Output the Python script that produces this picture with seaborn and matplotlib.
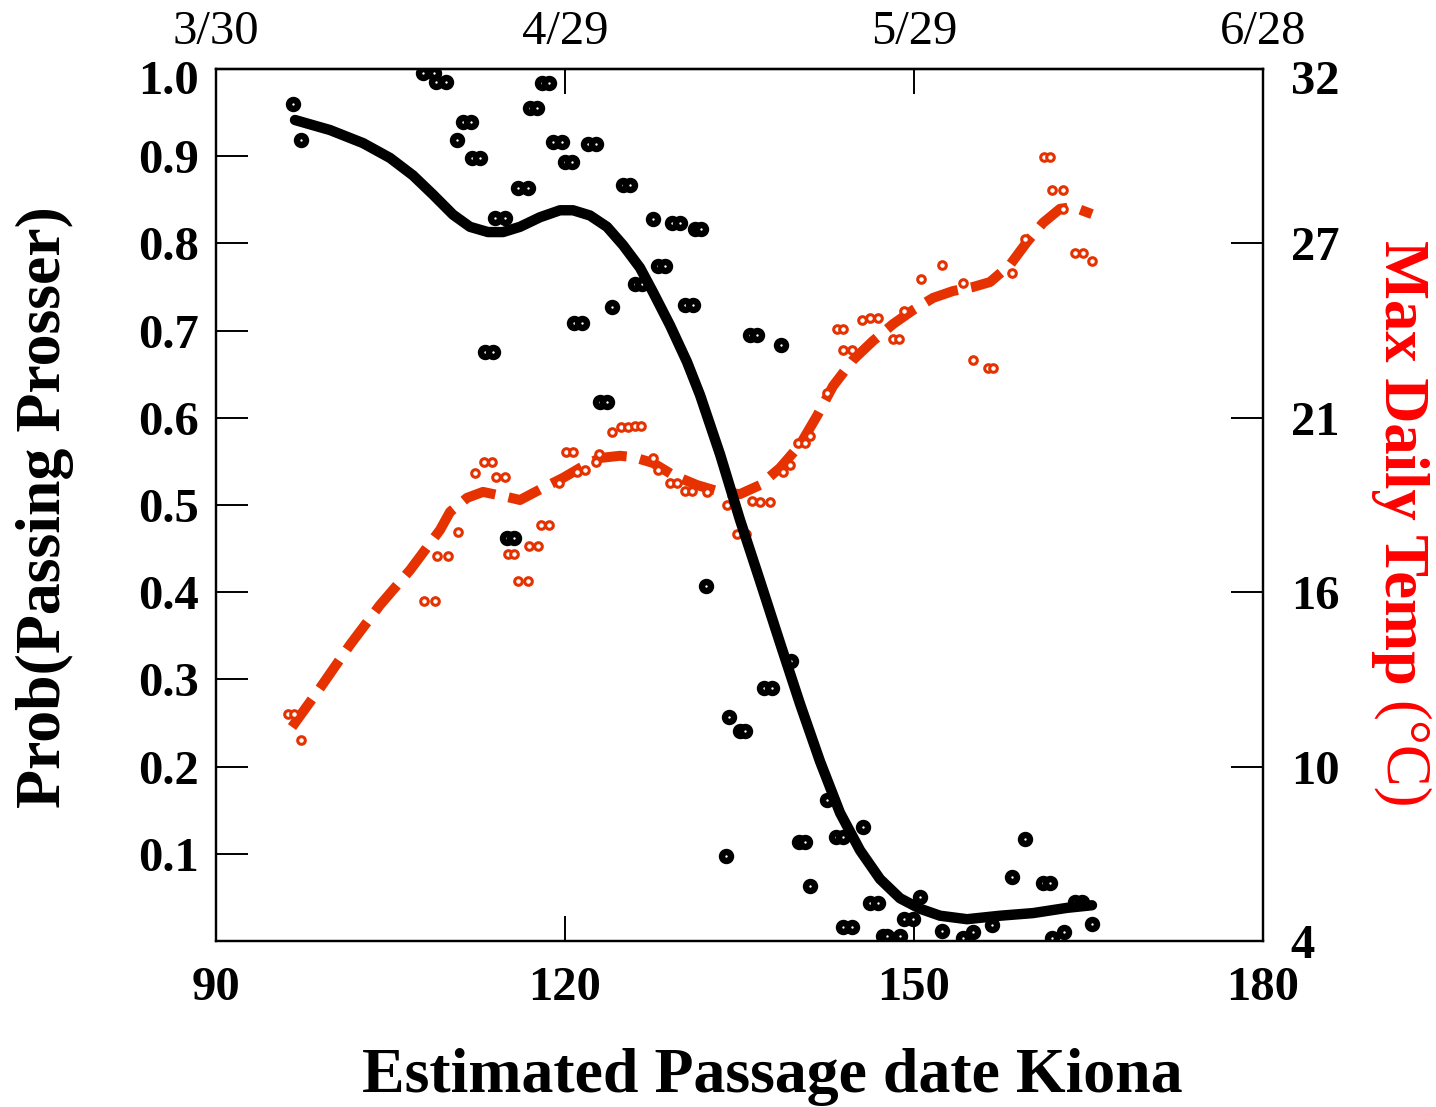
import numpy as np
import pandas as pd
import matplotlib
matplotlib.use("Agg")
import matplotlib.pyplot as plt
import matplotlib.transforms as mtransforms
import seaborn as sns

# ---------------- data ----------------
prob_x = [96.6, 97.3, 107.8, 108.7, 108.9, 109.8, 110.7, 111.2, 111.9, 112.0, 112.7,
          113.1, 113.8, 114.0, 114.8, 115.0, 115.6, 116.0, 116.8, 117.0, 117.6,
          118.0, 118.6, 119.0, 119.7, 120.0, 120.6, 120.8, 121.5, 122.0, 122.7,
          123.0, 123.6, 124.0, 125.0, 125.6, 126.0, 126.6, 127.6, 128.0, 128.6,
          129.2, 129.9, 130.3, 131.0, 131.2, 131.7, 132.1, 133.8, 134.1, 135.0, 135.5,
          135.9, 136.5, 137.1, 137.8, 138.6, 139.4, 140.1, 140.6, 141.1, 142.5,
          143.3, 143.9, 143.9, 144.7, 145.6, 146.2, 146.9, 147.3, 147.7, 148.8,
          149.1, 149.9, 150.5, 152.4, 154.2, 155.1, 156.7, 158.4, 159.5, 161.1,
          161.7, 161.9, 162.9, 163.8, 164.4, 165.3]
prob_y = [0.960, 0.919, 0.995, 0.995, 0.985, 0.985, 0.919, 0.939, 0.939, 0.898, 0.898,
          0.675, 0.675, 0.829, 0.829, 0.462, 0.462, 0.864, 0.864, 0.955, 0.955,
          0.984, 0.984, 0.916, 0.916, 0.893, 0.893, 0.709, 0.709, 0.914, 0.914,
          0.618, 0.618, 0.727, 0.867, 0.867, 0.753, 0.753, 0.828, 0.774, 0.774,
          0.823, 0.823, 0.729, 0.729, 0.817, 0.817, 0.407, 0.0975, 0.257, 0.241, 0.241,
          0.695, 0.695, 0.290, 0.290, 0.683, 0.321, 0.114, 0.114, 0.063, 0.162,
          0.119, 0.119, 0.016, 0.016, 0.131, 0.044, 0.044, 0.006, 0.006, 0.006,
          0.025, 0.025, 0.050, 0.011, 0.003, 0.010, 0.018, 0.073, 0.117, 0.066,
          0.066, 0.004, 0.010, 0.045, 0.045, 0.020]

prob_fit_x = [96.79, 99.80, 102.64, 104.96, 106.93, 108.65, 110.37, 111.83, 113.38,
              114.67, 116.13, 117.85, 119.57, 120.69, 122.15, 123.61, 124.99, 126.45,
              127.57, 129.03, 130.49, 131.61, 133.33, 135.04, 136.76, 138.48, 140.20,
              141.92, 143.64, 145.36, 147.08, 148.80, 150.52, 152.24, 154.56, 157.40,
              160.23, 163.15, 165.30]
prob_fit_y = [0.9415, 0.930, 0.915, 0.898, 0.878, 0.856, 0.833, 0.819, 0.813,
              0.813, 0.819, 0.830, 0.838, 0.838, 0.832, 0.819, 0.798, 0.772,
              0.744, 0.706, 0.664, 0.626, 0.558, 0.483, 0.413, 0.342, 0.272,
              0.206, 0.147, 0.104, 0.071, 0.049, 0.037, 0.029, 0.025, 0.029,
              0.032, 0.038, 0.041]

temp_x = [96.2, 96.7, 97.3, 107.9, 108.8, 109.0, 109.9, 110.8, 112.3, 113.0, 113.7,
          114.1, 114.8, 115.1, 115.6, 116.0, 116.8, 116.9, 117.7, 117.9, 118.6,
          119.5, 120.1, 120.7, 121.0, 121.7, 122.7, 122.9, 124.0, 124.8, 125.4,
          126.0, 126.5, 127.6, 128.0, 129.0, 129.6, 130.3, 130.9, 132.2, 133.9,
          134.8, 135.6, 136.1, 136.8, 137.6, 138.7, 139.3, 140.0, 140.6, 141.1,
          142.5, 143.4, 143.9, 143.9, 144.7, 145.5, 146.2, 146.9, 148.2, 148.7,
          149.1, 150.6, 152.4, 154.2, 155.1, 156.4, 156.8, 158.4, 159.5, 161.2,
          161.7, 161.9, 162.8, 162.8, 163.8, 164.5, 165.3]
temp_y = [11.3, 11.3, 10.45, 14.92, 14.92, 16.36, 16.36, 17.13, 19.03, 19.38, 19.38,
          18.90, 18.90, 16.43, 16.43, 15.56, 15.56, 16.68, 16.68, 17.36, 17.36,
          18.71, 19.70, 19.70, 19.06, 19.13, 19.38, 19.64, 20.35, 20.50, 20.50,
          20.55, 20.55, 19.51, 19.13, 18.71, 18.71, 18.45, 18.45, 18.42, 18.00,
          17.07, 17.07, 18.13, 18.10, 18.10, 19.06, 19.28, 19.99, 19.99, 20.22,
          21.60, 23.65, 23.65, 22.98, 22.98, 23.94, 24.00, 24.00, 23.33, 23.33,
          24.23, 25.26, 25.71, 25.13, 22.66, 22.40, 22.40, 25.45, 26.54, 29.18,
          29.18, 28.12, 28.12, 27.50, 26.09, 26.09, 25.84]

temp_fit_x = [96.53, 98.94, 101.52, 104.10, 106.68, 109.26, 110.12, 111.58, 112.95,
              115.01, 116.13, 118.11, 119.83, 121.29, 123.01, 124.73, 125.85, 127.57,
              129.29, 131.35, 133.33, 135.04, 136.76, 138.48, 140.20, 141.66, 143.04,
              144.76, 146.48, 148.20, 149.92, 151.64, 153.35, 155.07, 156.54, 158.25,
              159.72, 161.09, 162.55, 163.67, 165.30]
temp_fit_y = [10.87, 12.12, 13.51, 14.79, 15.91, 17.20, 17.78, 18.23, 18.42,
              18.26, 18.16, 18.55, 18.87, 19.19, 19.51, 19.58, 19.54, 19.35,
              18.96, 18.64, 18.42, 18.35, 18.64, 19.19, 19.93, 20.86, 21.82,
              22.66, 23.27, 23.81, 24.26, 24.65, 24.87, 25.00, 25.16, 25.71,
              26.45, 27.06, 27.51, 27.57, 27.34]

x_ticks = [90, 120, 150, 180]
x_tick_labels = ["90", "120", "150", "180"]
top_tick_labels = ["3/30", "4/29", "5/29", "6/28"]
left_ticks = [0.1, 0.2, 0.3, 0.4, 0.5, 0.6, 0.7, 0.8, 0.9, 1.0]
left_tick_labels = ["0.1", "0.2", "0.3", "0.4", "0.5", "0.6", "0.7", "0.8", "0.9", "1.0"]
right_tick_labels = ["4", "10", "16", "21", "27", "32"]

# ---------------- style ----------------
sns.set_style("white")
plt.rcParams["font.family"] = ["Liberation Serif", "DejaVu Serif"]
plt.rcParams["axes.linewidth"] = 1.6
for k in ("text.color", "axes.labelcolor", "xtick.color", "ytick.color", "axes.edgecolor"):
    plt.rcParams[k] = "black"

RED = "#E63200"
W, H = 1436, 1107
fig = plt.figure(figsize=(W / 100, H / 100), dpi=100)
ax = fig.add_axes([216 / W, 1 - 941 / H, (1263 - 216) / W, (941 - 69) / H])
ax2 = ax.twinx()

# temperature (right axis)
sns.lineplot(x=temp_fit_x, y=temp_fit_y, ax=ax2, color=RED, linewidth=7.2,
             linestyle=(0, (3.4, 1.35)), sort=False)
sns.scatterplot(x=temp_x, y=temp_y, ax=ax2, marker="o", s=30, facecolor="white",
                edgecolor=RED, linewidth=2.2, zorder=3)

# probability (left axis)
sns.scatterplot(x=prob_x, y=prob_y, ax=ax, marker="o", s=42, facecolor="white",
                edgecolor="black", linewidth=4.6, zorder=3)
sns.lineplot(x=prob_fit_x, y=prob_fit_y, ax=ax, color="black", linewidth=7.5,
             sort=False, zorder=4)

ax.set_zorder(ax2.get_zorder() + 1)
ax.patch.set_visible(False)

ax.set_xlim(90, 180)
ax.set_ylim(0, 1.0)
ax2.set_ylim(4, 32)

TICK_FS = 35
bold = dict(fontsize=TICK_FS, fontweight="bold")
ax.set_xticks(x_ticks)
ax.set_xticklabels(x_tick_labels, **bold)
ax.set_yticks(left_ticks)
ax.set_yticklabels(left_tick_labels, **bold)
ax2.set_yticks(np.linspace(4, 32, 6))
ax2.set_yticklabels(right_tick_labels, **bold)

ax.tick_params(axis="y", direction="in", length=23, width=1.4, pad=12, left=True)
ax.tick_params(axis="x", direction="in", length=18, width=1.4, pad=18, bottom=True)
ax2.tick_params(axis="y", direction="in", length=23, width=1.4, pad=20, right=True)

# top-edge labels sit a little lower in the reference
shift = mtransforms.ScaledTranslation(0, -8 / 100, fig.dpi_scale_trans)
for lab in (ax.get_yticklabels()[-1], ax2.get_yticklabels()[-1]):
    lab.set_transform(lab.get_transform() + shift)

sec = ax.secondary_xaxis("top")
sec.set_xticks(x_ticks)
sec.set_xticklabels(top_tick_labels, fontsize=TICK_FS)
sec.tick_params(direction="in", length=18, width=1.4, pad=11)
sec.spines["top"].set_linewidth(1.6)

for a in (ax, ax2):
    for s in a.spines.values():
        s.set_visible(True)
        s.set_color("black")
        s.set_linewidth(1.6)

ax.set_xlabel("")
ax.set_ylabel("")
ax2.set_ylabel("")

fig.text(772 / W, 1 - 1077 / H, "Estimated Passage date Kiona", ha="center", va="center",
         fontsize=46, fontweight="bold")
fig.text(45 / W, 1 - 507 / H, "Prob(Passing Prosser)", ha="center", va="center",
         rotation=90, fontsize=46, fontweight="bold")
fig.text(1400 / W, 1 - 462 / H, "Max Daily Temp", ha="center", va="center",
         rotation=-90, fontsize=45, fontweight="bold", color="red")
fig.text(1400 / W, 1 - 755 / H, "(°C)", ha="center", va="center",
         rotation=-90, fontsize=45, color="red")

fig.savefig("out.png", dpi=100)
